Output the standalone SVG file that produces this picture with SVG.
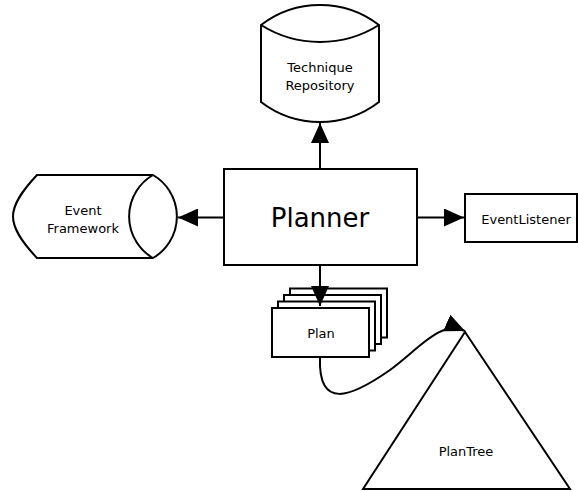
<svg xmlns="http://www.w3.org/2000/svg" width="578" height="491" viewBox="0 0 578 491">
<defs>
<style>
.s{fill:#fff;stroke:#000;stroke-width:2;stroke-linejoin:miter}
.l{fill:none;stroke:#000;stroke-width:2}
.t{font-family:"DejaVu Sans",sans-serif;font-size:13px;fill:#000;text-anchor:middle}
.big{font-size:26px}
</style>
<marker id="ah" markerUnits="userSpaceOnUse" markerWidth="20" markerHeight="18" refX="20" refY="9" orient="auto" viewBox="0 0 20 18">
<path d="M0,0 L20,9 L0,18 z" fill="#000"/>
</marker>
</defs>
<rect width="578" height="491" fill="#fff"/>
<g id="technique-repository">
<path class="s" d="M261,25 A97,97 0 0 1 379,25 L379,102 A97,97 0 0 1 261,102 Z"/>
<path class="l" d="M261,25 A111,111 0 0 0 379,25"/>
<text class="t" x="320" y="72">Technique</text>
<text class="t" x="320" y="90">Repository</text>
</g>
<g id="event-framework">
<path class="s" d="M37,175 L153,175 A48,48 0 0 1 153,258 L37,258 C22,242 13,229 13,216.5 C13,204 22,191 37,175 Z"/>
<path class="l" d="M153,175 A48,48 0 0 0 153,258"/>
<text class="t" x="83" y="215">Event</text>
<text class="t" x="83" y="233">Framework</text>
</g>
<g id="planner">
<rect class="s" x="224" y="169" width="193" height="96"/>
<text class="t big" x="320" y="227">Planner</text>
</g>
<g id="event-listener">
<rect class="s" x="465" y="194" width="112" height="48"/>
<text class="t" x="526" y="224">EventListener</text>
</g>
<g id="plan">
<rect class="s" x="290" y="288.5" width="97" height="49"/>
<rect class="s" x="284" y="295" width="97" height="49"/>
<rect class="s" x="278" y="301.5" width="97" height="49"/>
<rect class="s" x="272" y="308" width="97" height="49"/>
<text class="t" x="321" y="338">Plan</text>
</g>
<g id="plan-tree">
<path class="s" d="M465,332 L570,489 L363,489 Z"/>
<text class="t" x="466" y="456">PlanTree</text>
</g>
<g id="connectors">
<path class="l" d="M320,169 L320,123" marker-end="url(#ah)"/>
<path class="l" d="M224,217.5 L178,217.5" marker-end="url(#ah)"/>
<path class="l" d="M417,217.5 L464,217.5" marker-end="url(#ah)"/>
<path class="l" d="M320,265 L320,306" marker-end="url(#ah)"/>
<path class="l" d="M320,357 C318,410 350,398 390,370 C420,348 440,320 465,331" marker-end="url(#ah)"/>
</g>
</svg>
